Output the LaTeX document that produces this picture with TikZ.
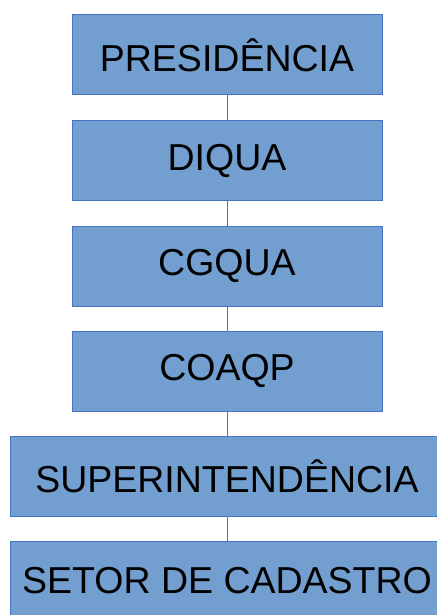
\documentclass[tikz,border=0pt]{standalone}
\usepackage{fontspec}
\setmainfont{Liberation Sans}
\definecolor{boxfill}{RGB}{114,159,207}
\definecolor{boxline}{RGB}{68,114,196}
\begin{document}
\begin{tikzpicture}[x=1pt,y=-1pt,
  orgbox/.style={draw=boxline,fill=boxfill,line width=1pt,inner sep=0pt,
    font=\fontsize{37.5}{44}\selectfont,text=black},
  link/.style={draw=boxline,line width=1pt}]
\useasboundingbox (0,0) rectangle (436,615);
\node[orgbox,minimum width=310pt,minimum height=80pt] (p) at (227,55) {PRESIDÊNCIA};
\node[orgbox,minimum width=310pt,minimum height=80pt] (d) at (227,160.5) {DIQUA};
\node[orgbox,minimum width=310pt,minimum height=80pt] (c) at (227,266) {CGQUA};
\node[orgbox,minimum width=310pt,minimum height=80pt] (o) at (227,371) {COAQP};
\node[orgbox,minimum width=434pt,minimum height=80pt] (s) at (227,476) {SUPERINTENDÊNCIA};
\node[orgbox,minimum width=434pt,minimum height=80pt] (t) at (227,581) {SETOR DE CADASTRO};
\draw[link] (p) -- (d);
\draw[link] (d) -- (c);
\draw[link] (c) -- (o);
\draw[link] (o) -- (s);
\draw[link] (s) -- (t);
\end{tikzpicture}
\end{document}
